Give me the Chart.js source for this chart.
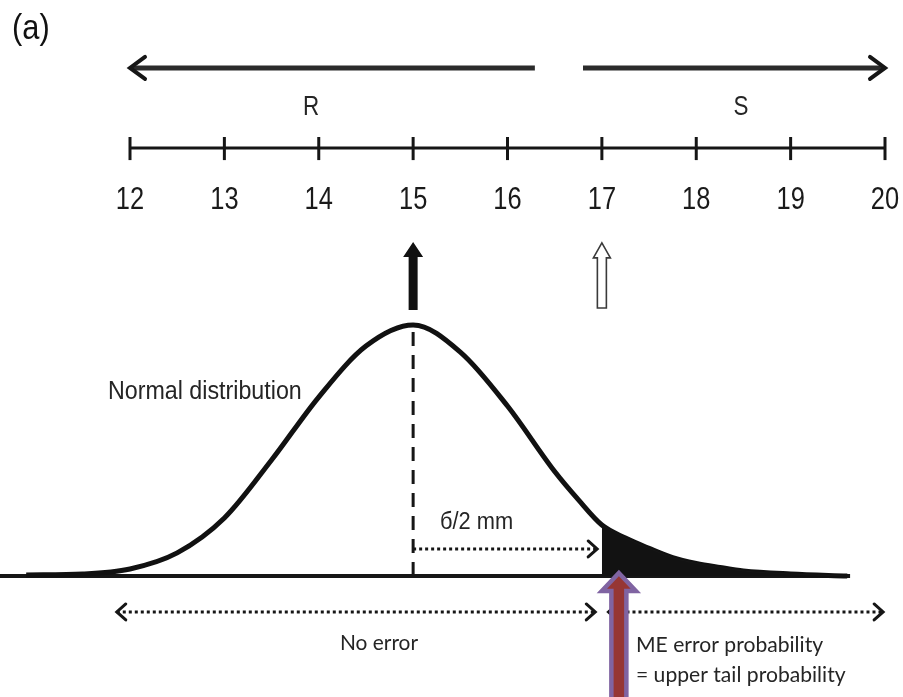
<!DOCTYPE html>
<html>
<head>
<meta charset="utf-8">
<script src="https://cdn.jsdelivr.net/npm/chart.js@4.4.1/dist/chart.umd.min.js"></script>
<style>
  html, body { margin: 0; padding: 0; background: #ffffff; }
  #wrap { width: 903px; height: 697px; position: relative; }
</style>
</head>
<body>
<div id="wrap"><canvas id="c"></canvas></div>
<script>
// Zone diameter ruler (mm) and its tick labels
const rulerTicks = [12, 13, 14, 15, 16, 17, 18, 19, 20];
const rulerLabels = ['12', '13', '14', '15', '16', '17', '18', '19', '20'];

// Measured zone diameter distribution (height relative to its peak)
const curveX = [10.9, 11.5, 12.0, 12.5, 13.0, 13.5, 14.0, 14.5, 15.0, 15.5, 16.0, 16.5, 16.75, 17.0, 17.25, 17.5, 17.75, 18.0, 18.25, 18.5, 19.0, 19.6];
const curveH = [0.004, 0.008, 0.028, 0.092, 0.231, 0.462, 0.713, 0.916, 1.0, 0.892, 0.677, 0.416, 0.304, 0.203, 0.151, 0.110, 0.073, 0.050, 0.034, 0.020, 0.008, 0.0];

// True diameter and breakpoint
const trueDiameter = 15;
const breakpoint = 17;

const curvePts = curveX.map((x, i) => ({ x: x, y: curveH[i] }));
const tailPts = curvePts.filter(p => p.x >= breakpoint);

const INK = '#161616';

function line(data, opts) {
  return Object.assign({
    data: data,
    borderColor: INK,
    borderWidth: 3,
    pointRadius: 0,
    fill: false,
    tension: 0
  }, opts || {});
}

// Level of each annotation row, in curve-height units (baseline = 0, peak = 1)
const LV = {
  label: 2.176,
  topArrow: 2.024,
  rs: 1.869,
  ruler: 1.705,
  tickTop: 1.749,
  tickBot: 1.657,
  tickText: 1.498,
  markTip: 1.331,
  markBase: 1.060,
  normText: 0.733,
  sigmaText: 0.211,
  sigmaArrow: 0.1076,
  bottomArrow: -0.1434,
  noErr: -0.267,
  me1: -0.275,
  me2: -0.394
};

// text with horizontal compression (narrow face)
function text(ctx, str, x, y, align, font, sx, color) {
  ctx.save();
  ctx.font = font;
  ctx.fillStyle = color;
  ctx.textAlign = align;
  ctx.textBaseline = 'middle';
  ctx.translate(x, y);
  ctx.scale(sx, 1);
  ctx.fillText(str, 0, 0);
  ctx.restore();
}

function chevron(ctx, x, y, dir, len, half, width) {
  ctx.save();
  ctx.strokeStyle = INK;
  ctx.lineWidth = width;
  ctx.lineCap = 'round';
  ctx.lineJoin = 'miter';
  ctx.beginPath();
  ctx.moveTo(x - dir * len, y - half);
  ctx.lineTo(x, y);
  ctx.lineTo(x - dir * len, y + half);
  ctx.stroke();
  ctx.restore();
}

function upArrow(ctx, cx, tip, base, headHalf, headLen, shaftHalf, fill, stroke, lw) {
  ctx.save();
  ctx.beginPath();
  ctx.moveTo(cx, tip);
  ctx.lineTo(cx + headHalf, tip + headLen);
  ctx.lineTo(cx + shaftHalf, tip + headLen);
  ctx.lineTo(cx + shaftHalf, base);
  ctx.lineTo(cx - shaftHalf, base);
  ctx.lineTo(cx - shaftHalf, tip + headLen);
  ctx.lineTo(cx - headHalf, tip + headLen);
  ctx.closePath();
  ctx.fillStyle = fill;
  ctx.fill();
  if (stroke) {
    ctx.strokeStyle = stroke;
    ctx.lineWidth = lw;
    ctx.lineJoin = 'miter';
    ctx.stroke();
  }
  ctx.restore();
}

const SANS = '"Liberation Sans", Arial, sans-serif';
const HUMAN = 'Lato, "Open Sans", sans-serif';

const annotations = {
  id: 'annotations',
  afterDatasetsDraw(chart) {
    const ctx = chart.ctx;
    const xs = chart.scales.x, ys = chart.scales.y;
    const px = v => xs.getPixelForValue(v);
    const py = v => ys.getPixelForValue(v);

    // panel label
    text(ctx, '(a)', px(10.75), py(LV.label), 'left', '35px ' + SANS, 0.88, '#111');

    // R / S arrow heads and labels
    chevron(ctx, px(12), py(LV.topArrow), -1, 15, 11, 4);
    chevron(ctx, px(20), py(LV.topArrow), 1, 15, 11, 4);
    text(ctx, 'R', px(13.918), py(LV.rs), 'center', '28px ' + SANS, 0.8, '#252525');
    text(ctx, 'S', px(18.474), py(LV.rs), 'center', '28px ' + SANS, 0.8, '#252525');

    // ruler ticks and labels
    ctx.save();
    ctx.strokeStyle = INK;
    ctx.lineWidth = 3;
    rulerTicks.forEach(t => {
      ctx.beginPath();
      ctx.moveTo(px(t), py(LV.tickTop));
      ctx.lineTo(px(t), py(LV.tickBot));
      ctx.stroke();
    });
    ctx.restore();
    rulerTicks.forEach((t, i) => {
      text(ctx, rulerLabels[i], px(t), py(LV.tickText), 'center', '31px ' + SANS, 0.82, '#1a1a1a');
    });

    // true diameter (solid) and breakpoint (hollow) markers
    const tipT = py(LV.markTip), baseT = py(LV.markBase);
    upArrow(ctx, px(trueDiameter), tipT, baseT, 10, 15, 4.5, '#111', null, 0);
    upArrow(ctx, px(breakpoint), tipT + 1, baseT - 2, 8.5, 15, 4.5, '#ffffff', '#3a3a3a', 1.6);

    // curve label
    text(ctx, 'Normal distribution', px(13.82), py(LV.normText), 'right', '25px ' + SANS, 0.93, '#252525');
    text(ctx, '\u0431/2 mm', px(15.285), py(LV.sigmaText), 'left', '23px ' + SANS, 0.95, '#252525');

    // dotted arrow heads
    chevron(ctx, px(16.95), py(LV.sigmaArrow), 1, 9, 8, 3);
    chevron(ctx, px(11.86), py(LV.bottomArrow), -1, 9, 8, 3);
    chevron(ctx, px(16.93), py(LV.bottomArrow), 1, 9, 8, 3);
    chevron(ctx, px(17.07), py(LV.bottomArrow), -1, 9, 8, 3);
    chevron(ctx, px(19.98), py(LV.bottomArrow), 1, 9, 8, 3);

    // bottom captions
    text(ctx, 'No error', px(14.638), py(LV.noErr), 'center', '22px ' + HUMAN, 0.95, '#252525');
    text(ctx, 'ME error probability', px(17.361), py(LV.me1), 'left', '22px ' + HUMAN, 0.96, '#252525');
    text(ctx, '= upper tail probability', px(17.361), py(LV.me2), 'left', '22px ' + HUMAN, 0.96, '#252525');

    // pointer to the upper tail
    upArrow(ctx, px(17.18), py(0.012), chart.height + 10, 17, 18, 7.5, '#963634', '#8064a2', 4.5);
  }
};

new Chart(document.getElementById('c'), {
  type: 'line',
  data: {
    datasets: [
      // upper tail area beyond the breakpoint
      line(tailPts, { fill: 'origin', backgroundColor: '#121212', borderWidth: 1, cubicInterpolationMode: 'monotone' }),
      // distribution curve
      line(curvePts, { borderWidth: 5, cubicInterpolationMode: 'monotone', borderColor: '#111' }),
      // baseline
      line([{ x: 10.62, y: 0 }, { x: 19.63, y: 0 }], { borderWidth: 4 }),
      // true diameter
      line([{ x: trueDiameter, y: 0 }, { x: trueDiameter, y: 0.99 }], { borderDash: [14, 9] }),
      // half-sigma offset
      line([{ x: trueDiameter, y: LV.sigmaArrow }, { x: 16.95, y: LV.sigmaArrow }], { borderDash: [3, 3] }),
      // no error / error ranges
      line([{ x: 11.86, y: LV.bottomArrow }, { x: 16.93, y: LV.bottomArrow }], { borderDash: [3, 3] }),
      line([{ x: 17.07, y: LV.bottomArrow }, { x: 19.98, y: LV.bottomArrow }], { borderDash: [3, 3] }),
      // R and S ranges
      line([{ x: 12.02, y: LV.topArrow }, { x: 16.29, y: LV.topArrow }], { borderWidth: 5, borderColor: '#2b2b2b' }),
      line([{ x: 16.80, y: LV.topArrow }, { x: 19.98, y: LV.topArrow }], { borderWidth: 5, borderColor: '#2b2b2b' }),
      // ruler
      line([{ x: 12, y: LV.ruler }, { x: 20, y: LV.ruler }], { borderWidth: 3 })
    ]
  },
  options: {
    responsive: true,
    maintainAspectRatio: false,
    animation: false,
    layout: { padding: 0 },
    plugins: { legend: { display: false }, tooltip: { enabled: false }, title: { display: false } },
    scales: {
      x: { type: 'linear', min: 10.6225, max: 20.1907, display: false },
      y: { type: 'linear', min: -0.4821, max: 2.2948, display: false }
    }
  },
  plugins: [annotations]
});
</script>
</body>
</html>
